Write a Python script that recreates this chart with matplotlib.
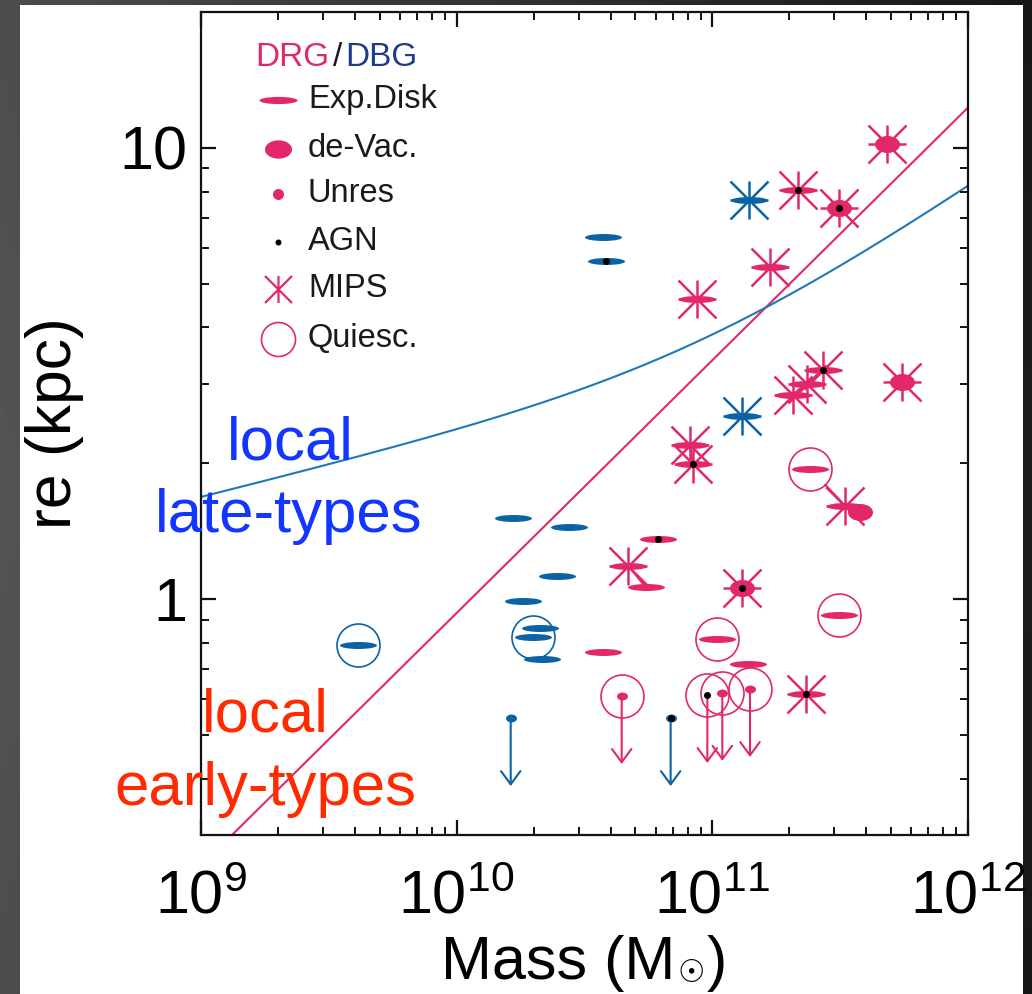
import numpy as np
import matplotlib
matplotlib.use("Agg")
import matplotlib.pyplot as plt
from matplotlib.path import Path
from matplotlib.transforms import Affine2D
from matplotlib.patches import Rectangle
from matplotlib.ticker import FixedLocator, FixedFormatter, LogLocator, NullFormatter

plt.rcParams["font.family"] = ["Liberation Sans", "DejaVu Sans"]
plt.rcParams["mathtext.fontset"] = "custom"
plt.rcParams["mathtext.rm"] = "Liberation Sans"
plt.rcParams["mathtext.it"] = "Liberation Sans:italic"
plt.rcParams["mathtext.bf"] = "Liberation Sans:bold"

PINK = "#E2286B"
BLUE = "#0B63A5"
BLUE_LINE = "#2079B6"
NAVY = "#1F3B8C"

# ---------------- DRG sample ----------------
drg_mass = [4.83e11, 2.17e11, 3.12e11, 1.68e11, 8.69e10, 2.72e11, 2.34e11, 2.07e11,
            5.50e11, 8.18e10, 8.38e10, 2.42e11, 3.30e11, 3.78e11, 6.15e10, 4.69e10,
            5.49e10, 1.31e11, 3.14e11, 1.043e11, 3.75e10, 1.383e11, 2.33e11, 4.42e10,
            9.56e10, 1.094e11, 1.404e11]
drg_re = [10.2, 8.06, 7.36, 5.45, 4.63, 3.22, 3.00, 2.84,
          3.02, 2.19, 1.99, 1.94, 1.61, 1.56, 1.36, 1.185,
          1.063, 1.056, 0.92, 0.814, 0.762, 0.718, 0.615, 0.61,
          0.613, 0.62, 0.632]
drg_morph = ["dev", "disk", "dev", "disk", "disk", "disk", "disk", "disk",
             "dev", "disk", "disk", "disk", "disk", "dev", "disk", "disk",
             "disk", "dev", "disk", "disk", "disk", "disk", "disk", "unres",
             "none", "unres", "unres"]
drg_agn = [0, 1, 1, 0, 0, 1, 0, 0, 0, 0, 1, 0, 0, 0, 1, 0, 0, 1, 0, 0, 0, 0, 1, 0, 1, 0, 0]
drg_mips = [1, 1, 1, 1, 1, 1, 1, 1, 1, 1, 1, 0, 1, 0, 0, 1, 0, 1, 0, 0, 0, 0, 1, 0, 0, 0, 0]
drg_quiesc = [0, 0, 0, 0, 0, 0, 0, 0, 0, 0, 0, 1, 0, 0, 0, 0, 0, 0, 1, 1, 0, 0, 0, 1, 1, 1, 1]
drg_limit = [0, 0, 0, 0, 0, 0, 0, 0, 0, 0, 0, 0, 0, 0, 0, 0, 0, 0, 0, 0, 0, 0, 0, 1, 1, 1, 1]
drg_links = [(9, 10), (11, 12), (15, 16), (5, 6), (6, 7)]

# ---------------- DBG sample ----------------
dbg_mass = [3.75e10, 3.84e10, 1.395e11, 1.306e11, 1.666e10, 2.76e10, 2.475e10,
            1.822e10, 1.994e10, 2.12e10, 2.15e10, 4.11e9, 1.627e10, 6.87e10]
dbg_re = [6.36, 5.62, 7.66, 2.55, 1.516, 1.445, 1.124,
          0.991, 0.825, 0.861, 0.736, 0.791, 0.545, 0.545]
dbg_morph = ["disk", "disk", "disk", "disk", "disk", "disk", "disk",
             "disk", "disk", "disk", "disk", "disk", "unres", "unres"]
dbg_agn = [0, 1, 0, 0, 0, 0, 0, 0, 0, 0, 0, 0, 0, 1]
dbg_mips = [0, 0, 1, 1, 0, 0, 0, 0, 0, 0, 0, 0, 0, 0]
dbg_quiesc = [0, 0, 0, 0, 0, 0, 0, 0, 1, 0, 0, 1, 0, 0]
dbg_limit = [0, 0, 0, 0, 0, 0, 0, 0, 0, 0, 0, 0, 1, 1]
dbg_links = []

# ---------------- local size-mass relations ----------------
early_a, early_b = 0.56, 2.34e-6
late_alpha, late_beta, late_gamma, late_m0 = 0.14, 0.39, 0.0923, 9.0e10

# ---------------- marker shapes ----------------
def ellipse_marker(aspect):
    return Path.unit_circle().transformed(Affine2D().scale(1.0, aspect))

DISK = ellipse_marker(7 / 37)
DEV = ellipse_marker(17 / 25)
UNRES = ellipse_marker(0.72)

def star_path(horizontal=True):
    verts = [(0, -1), (0, 1), (-1, -1), (1, 1), (-1, 1), (1, -1)]
    codes = [Path.MOVETO, Path.LINETO] * 3
    if horizontal:
        verts += [(-1, 0), (1, 0)]
        codes += [Path.MOVETO, Path.LINETO]
    return Path(verts, codes)

STAR = star_path(True)
STAR_KEY = star_path(False)

PX = 0.72  # points per pixel at 100 dpi

fig = plt.figure(figsize=(10.32, 9.94), dpi=100, facecolor="#3b4043")

# dark backdrop with soft shading and white slide panel
bg = fig.add_axes([0, 0, 1, 1], zorder=-10)
gx, gy = np.meshgrid(np.linspace(0, 1, 200), np.linspace(0, 1, 200))
shade = 0.33 - 0.21 * gx - 0.06 * np.abs(gy - 0.5)
bg.imshow(shade, cmap="gray", vmin=0, vmax=1, extent=[0, 1, 0, 1], aspect="auto")
bg.axis("off")
fig.add_artist(Rectangle((20 / 1032, 0), 1003 / 1032, 989 / 994,
                         transform=fig.transFigure, facecolor="white",
                         edgecolor="none", zorder=-5))

ax = fig.add_axes([201 / 1032, 159 / 994, 767 / 1032, 823 / 994])
ax.set_facecolor("white")
ax.set_xscale("log")
ax.set_yscale("log")
ax.set_xlim(1e9, 1e12)
ax.set_ylim(0.3, 20)

# relations
mgrid = np.logspace(9, 12, 400)
ax.plot(mgrid, early_b * mgrid ** early_a, color=PINK, lw=1.5, zorder=1)
ax.plot(mgrid, late_gamma * mgrid ** late_alpha * (1 + mgrid / late_m0) ** (late_beta - late_alpha),
        color=BLUE_LINE, lw=1.5, zorder=1)


def draw_sample(mass, re, morph, agn, mips, quiesc, limit, links, color):
    for i, j in links:
        ax.annotate("", xy=(mass[j], re[j]), xytext=(mass[i], re[i]),
                    arrowprops=dict(arrowstyle="-", color=color, lw=1.6,
                                    shrinkA=15.5 if quiesc[i] else 0, shrinkB=0),
                    zorder=2)
    for k in range(len(mass)):
        m, r = mass[k], re[k]
        if limit[k]:
            ax.annotate("", xy=(m, r), xytext=(0, -49), textcoords="offset points",
                        arrowprops=dict(arrowstyle="<-,head_length=0.95,head_width=0.7",
                                        color=color, lw=1.5, shrinkA=0, shrinkB=0,
                                        mutation_scale=10),
                        zorder=2)
        if mips[k]:
            ax.plot(m, r, marker=STAR, ms=38 * PX, mfc="none", mec=color, mew=1.8, zorder=3)
        if morph[k] == "disk":
            ax.plot(m, r, marker=DISK, ms=37 * PX, mfc=color, mec="none", zorder=4)
        elif morph[k] == "dev":
            ax.plot(m, r, marker=DEV, ms=25 * PX, mfc=color, mec="none", zorder=4)
        elif morph[k] == "unres":
            ax.plot(m, r, marker=UNRES, ms=11 * PX, mfc=color, mec="none", zorder=4)
        if agn[k]:
            ax.plot(m, r, marker="o", ms=7 * PX, mfc="black", mec="none", zorder=5)
        if quiesc[k]:
            ax.plot(m, r, marker="o", ms=43 * PX, mfc="none", mec=color, mew=1.2, zorder=5)


draw_sample(dbg_mass, dbg_re, dbg_morph, dbg_agn, dbg_mips, dbg_quiesc, dbg_limit, dbg_links, BLUE)
draw_sample(drg_mass, drg_re, drg_morph, drg_agn, drg_mips, drg_quiesc, drg_limit, drg_links, PINK)

# axes styling
for s in ax.spines.values():
    s.set_linewidth(1.6)
    s.set_color("#111111")
ax.xaxis.set_major_locator(FixedLocator([1e9, 1e10, 1e11, 1e12]))
ax.xaxis.set_major_formatter(FixedFormatter([r"$10^{9}$", r"$10^{10}$", r"$10^{11}$", r"$10^{12}$"]))
ax.xaxis.set_minor_locator(LogLocator(base=10, subs=np.arange(2, 10), numticks=20))
ax.xaxis.set_minor_formatter(NullFormatter())
ax.yaxis.set_major_locator(FixedLocator([1, 10]))
ax.yaxis.set_major_formatter(FixedFormatter(["1", "10"]))
ax.yaxis.set_minor_locator(LogLocator(base=10, subs=np.arange(2, 10), numticks=20))
ax.yaxis.set_minor_formatter(NullFormatter())
ax.tick_params(which="both", direction="in", top=True, right=True, color="#111111")
ax.tick_params(which="major", length=11, width=1.6, labelsize=44)
ax.tick_params(which="minor", length=6, width=1.4)
ax.tick_params(axis="x", which="major", pad=25)
ax.tick_params(axis="y", which="major", pad=10)

ax.set_ylabel("re (kpc)", fontsize=45, labelpad=25)


# x-axis title with solar-mass subscript
def fig_xy(px, py):
    return px / 1032, (994 - py) / 994


fig.text(*fig_xy(441, 979), "Mass (M", fontsize=44, color="black", ha="left", va="baseline")
fig.text(*fig_xy(691, 974), "\u2609", fontsize=22, color="black", ha="center", va="center",
         family="DejaVu Sans")
fig.text(*fig_xy(707, 979), ")", fontsize=44, color="black", ha="left", va="baseline")

# key
key_x, txt_x = 0.1004, 0.1395
rows = [0.8935, 0.834, 0.7793, 0.721, 0.6639, 0.6031]
labels = ["Exp.Disk", "de-Vac.", "Unres", "AGN", "MIPS", "Quiesc."]
ax.plot(key_x, rows[0], transform=ax.transAxes, marker=DISK, ms=38 * PX, mfc=PINK, mec="none", clip_on=False)
ax.plot(key_x, rows[1], transform=ax.transAxes, marker=DEV, ms=27 * PX, mfc=PINK, mec="none", clip_on=False)
ax.plot(key_x, rows[2], transform=ax.transAxes, marker="o", ms=11 * PX, mfc=PINK, mec="none", clip_on=False)
ax.plot(key_x, rows[3], transform=ax.transAxes, marker="o", ms=6 * PX, mfc="black", mec="none", clip_on=False)
ax.plot(key_x, rows[4], transform=ax.transAxes, marker=STAR_KEY, ms=27 * PX, mfc="none", mec=PINK, mew=1.6, clip_on=False)
ax.plot(key_x, rows[5], transform=ax.transAxes, marker="o", ms=34 * PX, mfc="none", mec=PINK, mew=1.2, clip_on=False)
for y, lab in zip(rows, labels):
    ax.text(txt_x, y, lab, transform=ax.transAxes, fontsize=23.5, color="#1a1a1a",
            ha="left", va="center")

t1 = ax.text(0.0704, 0.9443, "DRG", transform=ax.transAxes, fontsize=24, color=PINK,
             ha="left", va="center")
t2 = ax.annotate("/", xy=(1, 0), xycoords=t1, xytext=(3, 0), textcoords="offset points",
                 fontsize=24, color="#1a1a1a", ha="left", va="bottom")
ax.annotate("DBG", xy=(1, 0), xycoords=t2, xytext=(2, 0), textcoords="offset points",
            fontsize=24, color=NAVY, ha="left", va="bottom")


# annotations for the local relations
def fig_label(px, py, s, color):
    fig.text(*fig_xy(px, py), s, fontsize=44.5, color=color, ha="left", va="baseline")


fig_label(227, 460, "local", "#1236FF")
fig_label(155, 532, "late-types", "#1236FF")
fig_label(202, 732, "local", "#FF2A00")
fig_label(114, 805, "early-types", "#FF2A00")

fig.savefig("out.png", dpi=100, facecolor=fig.get_facecolor())
